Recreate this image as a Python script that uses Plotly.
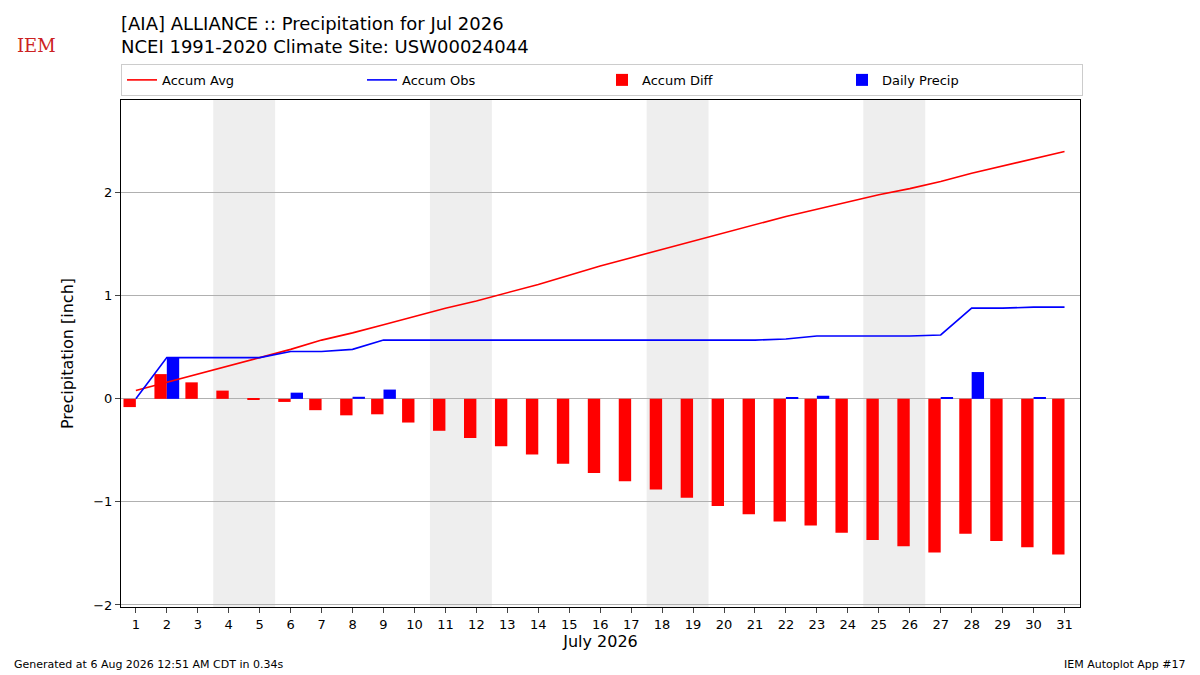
import plotly.graph_objects as go

days = list(range(1, 32))
accum_avg = [0.08,0.16,0.24,0.32,0.40,0.48,0.57,0.64,0.72,0.80,0.88,0.95,1.03,1.11,1.20,1.29,1.37,1.45,1.53,1.61,1.69,1.77,1.84,1.91,1.98,2.04,2.11,2.19,2.26,2.33,2.40]
accum_obs = [0.00,0.40,0.40,0.40,0.40,0.46,0.46,0.48,0.57,0.57,0.57,0.57,0.57,0.57,0.57,0.57,0.57,0.57,0.57,0.57,0.57,0.58,0.61,0.61,0.61,0.61,0.62,0.88,0.88,0.89,0.89]
accum_diff = [-0.08,0.24,0.16,0.08,-0.01,-0.03,-0.11,-0.16,-0.15,-0.23,-0.31,-0.38,-0.46,-0.54,-0.63,-0.72,-0.80,-0.88,-0.96,-1.04,-1.12,-1.19,-1.23,-1.30,-1.37,-1.43,-1.49,-1.31,-1.38,-1.44,-1.51]
daily = [0,0.40,0,0,0,0.06,0,0.02,0.09,0,0,0,0,0,0,0,0,0,0,0,0,0.01,0.03,0,0,0,0.01,0.26,0,0.01,0]
weekends = [(3.5,5.5),(10.5,12.5),(17.5,19.5),(24.5,26.5)]

fig = go.Figure()
fig.add_trace(go.Scatter(x=days, y=accum_avg, mode="lines", name="Accum Avg", line=dict(color="red", width=1.6)))
fig.add_trace(go.Scatter(x=days, y=accum_obs, mode="lines", name="Accum Obs", line=dict(color="blue", width=1.6)))
fig.add_trace(go.Bar(x=days, y=accum_diff, name="Accum Diff", marker=dict(color="red", line=dict(width=0)), width=0.4, offset=-0.4))
fig.add_trace(go.Bar(x=days, y=daily, name="Daily Precip", marker=dict(color="blue", line=dict(width=0)), width=0.4, offset=0))
for a, b in weekends:
    fig.add_vrect(x0=a, x1=b, fillcolor="#eeeeee", line_width=0, layer="below")

fig.update_layout(
    width=1200, height=675, plot_bgcolor="white", paper_bgcolor="white",
    margin=dict(l=113, r=128, t=92, b=76, autoexpand=False),
    font=dict(family="DejaVu Sans", size=13, color="black"),
    showlegend=True, barmode="overlay",
    legend=dict(orientation="h", x=0, y=1.008, xanchor="left", yanchor="bottom",
                entrywidth=195, entrywidthmode="pixels", bordercolor="#cccccc", borderwidth=1,
                font=dict(size=13), tracegroupgap=0),
    xaxis=dict(range=[0.52, 31.5], tickmode="array", tickvals=days, ticktext=[str(d) for d in days],
               showgrid=False, showline=True, linecolor="black", mirror=True, ticks="outside",
               title=dict(text="July 2026", font=dict(size=16), standoff=5)),
    yaxis=dict(range=[-2.02, 2.9], tickvals=[-2,-1,0,1,2], ticktext=["\u22122","\u22121","0","1","2"],
               showgrid=True, gridcolor="#b0b0b0", zeroline=False, showline=True, linecolor="black",
               mirror=True, ticks="outside", title=dict(text="Precipitation [inch]", font=dict(size=16))),
)
fig.add_annotation(text="[AIA] ALLIANCE :: Precipitation for Jul 2026",
                   xref="paper", yref="paper", x=-0.002, y=1.150, xanchor="left", yanchor="middle",
                   showarrow=False, font=dict(size=18))
fig.add_annotation(text="NCEI 1991-2020 Climate Site: USW00024044",
                   xref="paper", yref="paper", x=-0.002, y=1.105, xanchor="left", yanchor="middle",
                   showarrow=False, font=dict(size=18))
fig.add_annotation(text="IEM", xref="paper", yref="paper", x=-0.0876, y=1.108, xanchor="center", yanchor="middle",
                   showarrow=False, font=dict(size=18, color="#cc2222", family="DejaVu Serif"))
fig.add_annotation(text="Generated at 6 Aug 2026 12:51 AM CDT in 0.34s", xref="paper", yref="paper",
                   x=-0.1137, y=-0.114, xanchor="left", yanchor="middle", showarrow=False, font=dict(size=11))
fig.add_annotation(text="IEM Autoplot App #17", xref="paper", yref="paper",
                   x=1.1126, y=-0.114, xanchor="right", yanchor="middle", showarrow=False, font=dict(size=11))
fig.write_html("out.html")
